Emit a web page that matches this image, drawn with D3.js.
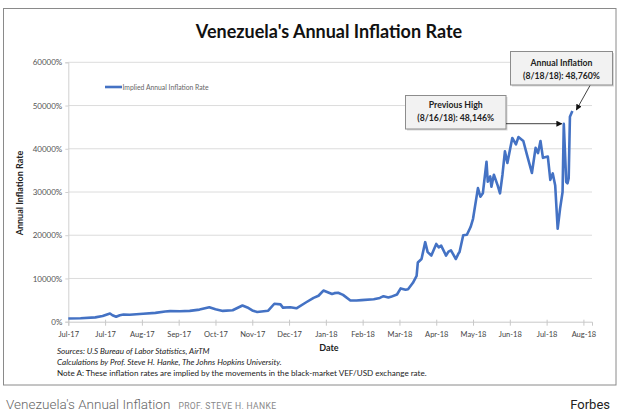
<!DOCTYPE html>
<html>
<head>
<meta charset="utf-8">
<script src="https://cdn.jsdelivr.net/npm/d3@7"></script>
<style>
  html, body { margin: 0; padding: 0; background: #fff; }
  svg { display: block; }
</style>
</head>
<body>
<svg id="chart" width="622" height="417"></svg>
<script>
// ---------------- DATA ----------------
const dates = [
  "2017-07-01","2017-07-11","2017-07-23","2017-07-29","2017-08-04","2017-08-06","2017-08-09","2017-08-12",
  "2017-08-15","2017-08-20","2017-08-31","2017-09-10","2017-09-18","2017-09-22","2017-09-30","2017-10-08",
  "2017-10-16","2017-10-24","2017-10-29","2017-11-04","2017-11-12","2017-11-20","2017-11-24","2017-11-28",
  "2017-12-02","2017-12-11","2017-12-16","2017-12-21","2017-12-23","2017-12-29","2018-01-03","2018-01-11",
  "2018-01-17","2018-01-21","2018-01-25","2018-02-01","2018-02-03","2018-02-06","2018-02-10","2018-02-16",
  "2018-02-21","2018-02-25","2018-03-07","2018-03-12","2018-03-15","2018-03-19","2018-03-21","2018-03-26",
  "2018-03-29","2018-04-02","2018-04-04","2018-04-08","2018-04-11","2018-04-12","2018-04-15","2018-04-18",
  "2018-04-20","2018-04-23","2018-04-27","2018-04-29","2018-05-01","2018-05-05","2018-05-07","2018-05-09",
  "2018-05-13","2018-05-15","2018-05-16","2018-05-19","2018-05-22","2018-05-25","2018-05-27","2018-05-31",
  "2018-06-02","2018-06-04","2018-06-07","2018-06-08","2018-06-10","2018-06-11","2018-06-13","2018-06-16",
  "2018-06-18","2018-06-20","2018-06-22","2018-06-24","2018-06-28","2018-07-01","2018-07-03","2018-07-07",
  "2018-07-10","2018-07-14","2018-07-17","2018-07-19","2018-07-21","2018-07-23","2018-07-27","2018-07-29",
  "2018-07-31","2018-08-02","2018-08-04","2018-08-06","2018-08-08","2018-08-09","2018-08-11","2018-08-12",
  "2018-08-13","2018-08-14","2018-08-16"
];
const inflation = [
  750, 800, 1000, 1300, 1900, 1500, 1150, 1500,
  1650, 1600, 1850, 2050, 2350, 2450, 2400, 2500,
  2800, 3350, 2900, 2500, 2650, 3750, 3300, 2600,
  2250, 2550, 4150, 4000, 3250, 3350, 3100, 4500,
  5500, 6000, 7200, 6400, 6600, 6700, 6200, 4900,
  4900, 5000, 5200, 5500, 5900, 5600, 5750, 6300,
  7700, 7400, 7500, 9000, 10600, 13700, 14500, 18400,
  16100, 15300, 18000, 17200, 17600, 15300, 16200, 16500,
  14500, 15700, 16100, 20000, 20100, 21900, 23800, 30900,
  28900, 29700, 37000, 32400, 33600, 31200, 34000, 31600,
  29700, 34000, 39400, 36700, 42500, 41000, 42700, 41800,
  38600, 34400, 40200, 39000, 41800, 37900, 38200, 32800,
  34300, 31500, 21500, 26200, 30000, 45800, 32300, 32000,
  33200, 47400, 48760
];
const seriesName = "Implied Annual Inflation Rate";
const tickLabels = ["Jul-17","Jul-17","Aug-17","Sep-17","Oct-17","Nov-17","Dec-17","Jan-18",
                    "Feb-18","Mar-18","Apr-18","May-18","Jun-18","Jul-18","Aug-18"];
const yTicks = [0, 10000, 20000, 30000, 40000, 50000, 60000];
const axisStart = "2017-07-01", axisEnd = "2018-09-01", tickStepDays = 30;
const prevHighDate = "2018-08-09", prevHighValue = 45800;
const lastDate = "2018-08-16", lastValue = 48760;
const titleText = "Venezuela's Annual Inflation Rate";
const noteLines = [
  "Sources: U.S Bureau of Labor Statistics, AirTM",
  "Calculations by Prof. Steve H. Hanke, The Johns Hopkins University.",
  "Note A: These inflation rates are implied by the movements in the black-market VEF/USD exchange rate."
];
const box1Lines = ["Previous High", "(8/16/18): 48,146%"];
const box2Lines = ["Annual Inflation", "(8/18/18): 48,760%"];

// ---------------- DRAW ----------------
const parse = d3.timeParse("%Y-%m-%d");
const data = dates.map((d, i) => ({ date: parse(d), value: inflation[i] }));
const svg = d3.select("#chart");
const FONT = "Lato, 'Noto Sans', sans-serif";

const x = d3.scaleTime().domain([parse(axisStart), parse(axisEnd)]).range([68.3, 592]);
const y = d3.scaleLinear().domain([0, 60000]).range([321.7, 62.3]);

// outer chart border
svg.append("rect").attr("x", 3.5).attr("y", 8.5).attr("width", 612.5).attr("height", 376.5)
  .attr("fill", "#fff").attr("stroke", "#8a8a8a").attr("stroke-width", 1);

// title
svg.append("text").attr("x", 329).attr("y", 38).attr("text-anchor", "middle")
  .attr("font-family", FONT).attr("font-weight", "bold").attr("font-size", 18)
  .attr("fill", "#111").text(titleText);

// gridlines
svg.append("g").selectAll("line").data(yTicks.filter(d => d > 0)).join("line")
  .attr("x1", 68.3).attr("x2", 592).attr("y1", d => y(d)).attr("y2", d => y(d))
  .attr("stroke", "#dcdcdc").attr("stroke-width", 1);

// y axis
const yAxis = d3.axisLeft(y).tickValues(yTicks).tickFormat(d => d + "%").tickSize(3).tickPadding(3);
const gy = svg.append("g").attr("transform", "translate(68.3,0)").call(yAxis);
gy.select(".domain").attr("stroke", "#d0d0d0");
gy.selectAll(".tick line").attr("stroke", "#d0d0d0");
gy.selectAll("text").attr("font-family", FONT).attr("font-size", 8).attr("fill", "#555");

// x axis
const tickDates = tickLabels.map((_, i) => d3.timeDay.offset(parse(axisStart), i * tickStepDays));
const xAxis = d3.axisBottom(x).tickValues(tickDates).tickFormat((d, i) => tickLabels[i]).tickSize(4).tickPadding(6);
const gx = svg.append("g").attr("transform", `translate(0,${y(0)})`).call(xAxis);
gx.select(".domain").attr("stroke", "#c8c8c8");
gx.selectAll(".tick line").attr("stroke", "#c8c8c8").attr("y1", -2);
gx.selectAll("text").attr("font-family", FONT).attr("font-size", 7.5).attr("fill", "#444");

// axis titles
svg.append("text").attr("transform", "translate(23,193) rotate(-90)").attr("text-anchor", "middle")
  .attr("font-family", FONT).attr("font-weight", "bold").attr("font-size", 9).attr("fill", "#222")
  .text("Annual Inflation Rate");
svg.append("text").attr("x", 329).attr("y", 350.5).attr("text-anchor", "middle")
  .attr("font-family", FONT).attr("font-weight", "bold").attr("font-size", 9).attr("fill", "#222")
  .text("Date");

// line
const line = d3.line().x(d => x(d.date)).y(d => y(d.value)).curve(d3.curveLinear);
svg.append("path").datum(data).attr("d", line).attr("fill", "none")
  .attr("stroke", "#4472c4").attr("stroke-width", 2.6).attr("stroke-linejoin", "round");

// legend
svg.append("line").attr("x1", 105).attr("x2", 122).attr("y1", 87).attr("y2", 87)
  .attr("stroke", "#4472c4").attr("stroke-width", 2.6);
svg.append("text").attr("x", 122.5).attr("y", 89.5).attr("font-family", FONT).attr("font-size", 6.8)
  .attr("fill", "#666").text(seriesName);

// arrow marker
svg.append("defs").append("marker").attr("id", "arr").attr("viewBox", "0 0 10 10")
  .attr("refX", 9).attr("refY", 5).attr("markerWidth", 6).attr("markerHeight", 6)
  .attr("markerUnits", "userSpaceOnUse").attr("orient", "auto")
  .append("path").attr("d", "M0,0 L10,5 L0,10 Z").attr("fill", "#111");

// annotation boxes
function box(bx, by, bw, bh, lines, b1, b2) {
  svg.append("rect").attr("x", bx + 1.5).attr("y", by + 1.5).attr("width", bw).attr("height", bh)
    .attr("fill", "#d8d8d8");
  svg.append("rect").attr("x", bx).attr("y", by).attr("width", bw).attr("height", bh)
    .attr("fill", "#f2f2f2").attr("stroke", "#8c8c8c").attr("stroke-width", 1);
  lines.forEach((t, i) => {
    svg.append("text").attr("x", bx + bw / 2).attr("y", i === 0 ? b1 : b2).attr("text-anchor", "middle")
      .attr("font-family", FONT).attr("font-weight", "bold").attr("font-size", 8.7).attr("fill", "#222").text(t);
  });
}
box(405.5, 95.5, 100.5, 33.5, box1Lines, 108, 120.5);
box(510.5, 51.5, 102, 33.5, box2Lines, 66, 78.5);

const phx = x(parse(prevHighDate)), phy = y(prevHighValue);
svg.append("line").attr("x1", 506).attr("y1", phy).attr("x2", phx - 2).attr("y2", phy)
  .attr("stroke", "#111").attr("stroke-width", 0.8).attr("marker-end", "url(#arr)");
const lx = x(parse(lastDate)), ly = y(lastValue);
svg.append("line").attr("x1", 590).attr("y1", 85.5).attr("x2", lx + 4).attr("y2", ly - 1)
  .attr("stroke", "#111").attr("stroke-width", 0.8).attr("marker-end", "url(#arr)");

// notes
noteLines.forEach((t, i) => {
  svg.append("text").attr("x", 57).attr("y", 354 + i * 11).attr("font-family", FONT)
    .attr("font-size", 8.1).attr("font-style", i < 2 ? "italic" : "normal").attr("fill", "#222").text(t);
});

// caption below chart
const cap = svg.append("text").attr("x", 6).attr("y", 408.5).attr("font-family", "Roboto, sans-serif");
cap.append("tspan").attr("font-size", 13.5).attr("fill", "#666").attr("font-weight", 300).text("Venezuela's Annual Inflation");
cap.append("tspan").attr("dx", 8).attr("font-size", 8.6).attr("fill", "#888").attr("letter-spacing", 0.35).text("PROF. STEVE H. HANKE");
svg.append("text").attr("x", 610).attr("y", 408.5).attr("text-anchor", "end").attr("font-family", "Roboto, sans-serif")
  .attr("font-size", 13).attr("fill", "#222").text("Forbes");
</script>
</body>
</html>
